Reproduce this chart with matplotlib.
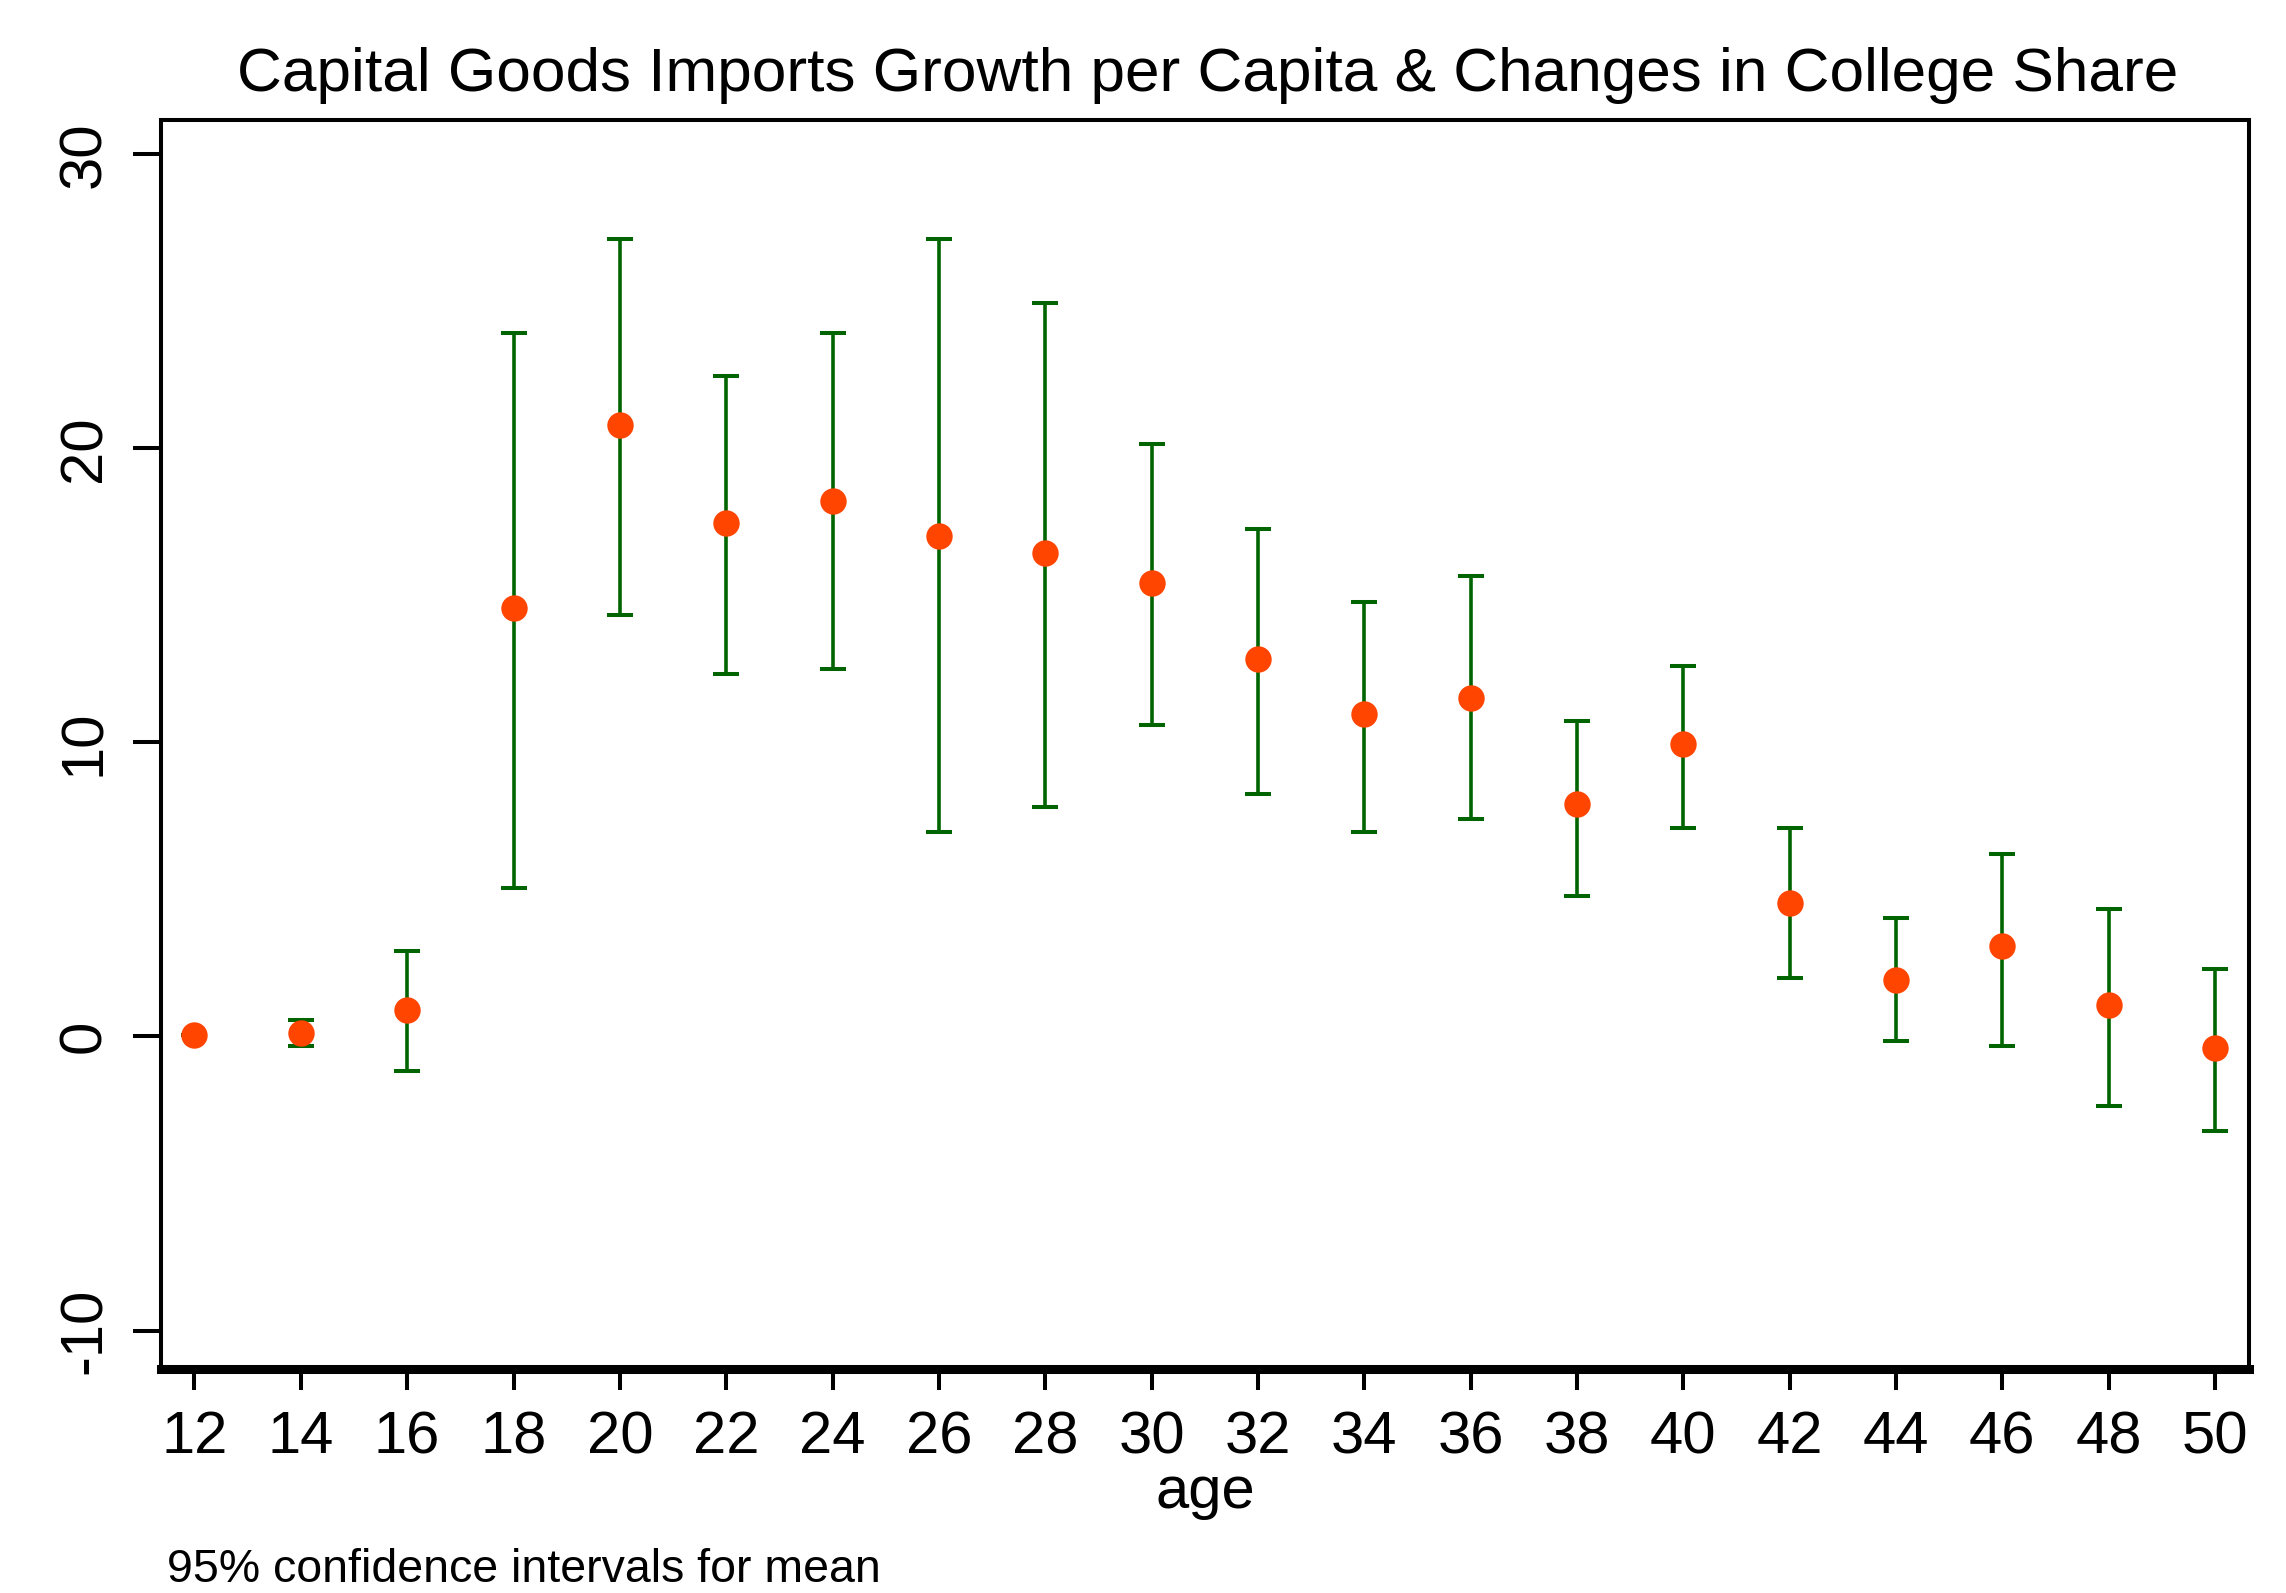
import numpy as np
import matplotlib.pyplot as plt

plt.rcParams['font.family'] = ['Liberation Sans', 'DejaVu Sans']
plt.rcParams['axes.unicode_minus'] = False

age = [12, 14, 16, 18, 20, 22, 24, 26, 28, 30, 32, 34, 36, 38, 40, 42, 44, 46, 48, 50]
mean = [0.05, 0.13, 0.91, 14.56, 20.80, 17.47, 18.20, 17.02, 16.45, 15.43,
        12.83, 10.95, 11.52, 7.89, 9.93, 4.55, 1.93, 3.09, 1.06, -0.38]
ci_lo = [0.05, -0.32, -1.19, 5.06, 14.33, 12.32, 12.48, 6.94, 7.81, 10.58,
         8.26, 6.95, 7.38, 4.77, 7.10, 2.00, -0.17, -0.31, -2.35, -3.22]
ci_hi = [0.05, 0.56, 2.89, 23.93, 27.12, 22.47, 23.93, 27.12, 24.95, 20.16,
         17.25, 14.79, 15.65, 10.72, 12.61, 7.10, 4.04, 6.22, 4.33, 2.30]
yticks = [-10, 0, 10, 20, 30]

W, H = 2286, 1593
fig = plt.figure(figsize=(W / 100, H / 100), dpi=100)
ax = fig.add_axes([161 / W, (H - 1368.5) / H, (2249 - 161) / W, (1368.5 - 119.5) / H])

mean = np.array(mean)
err = [mean - np.array(ci_lo), np.array(ci_hi) - mean]
ax.errorbar(age, mean, yerr=err, fmt='none', ecolor='#006400',
            elinewidth=2.6, capsize=9.4, capthick=2.9, zorder=2)
ax.plot(age, mean, 'o', color='#ff4500', markersize=19, markeredgewidth=0, zorder=3)

ax.set_xlim(11.37, 50.64)
ax.set_ylim(-11.29, 31.18)
ax.set_xticks(age)
ax.set_yticks(yticks)

for s in ['left', 'right', 'top']:
    ax.spines[s].set_linewidth(2.9)
ax.spines['bottom'].set_linewidth(6.5)

ax.tick_params(axis='x', length=15, width=2.9, labelsize=43, pad=15)
ax.tick_params(axis='y', length=20, width=2.9, labelsize=43, pad=15)
plt.setp(ax.get_yticklabels(), rotation=90, va='center')

ax.set_xlabel('age', fontsize=43)
ax.xaxis.label.set_va('baseline')
ax.xaxis.set_label_coords(0.5, -0.1113)

fig.text(1207.5 / W, 1 - 91 / H, 'Capital Goods Imports Growth per Capita & Changes in College Share',
         ha='center', va='baseline', fontsize=44.7)
fig.text(167 / W, 1 - 1582 / H, '95% confidence intervals for mean',
         ha='left', va='baseline', fontsize=33.5)

fig.savefig('out.png', dpi=100)
